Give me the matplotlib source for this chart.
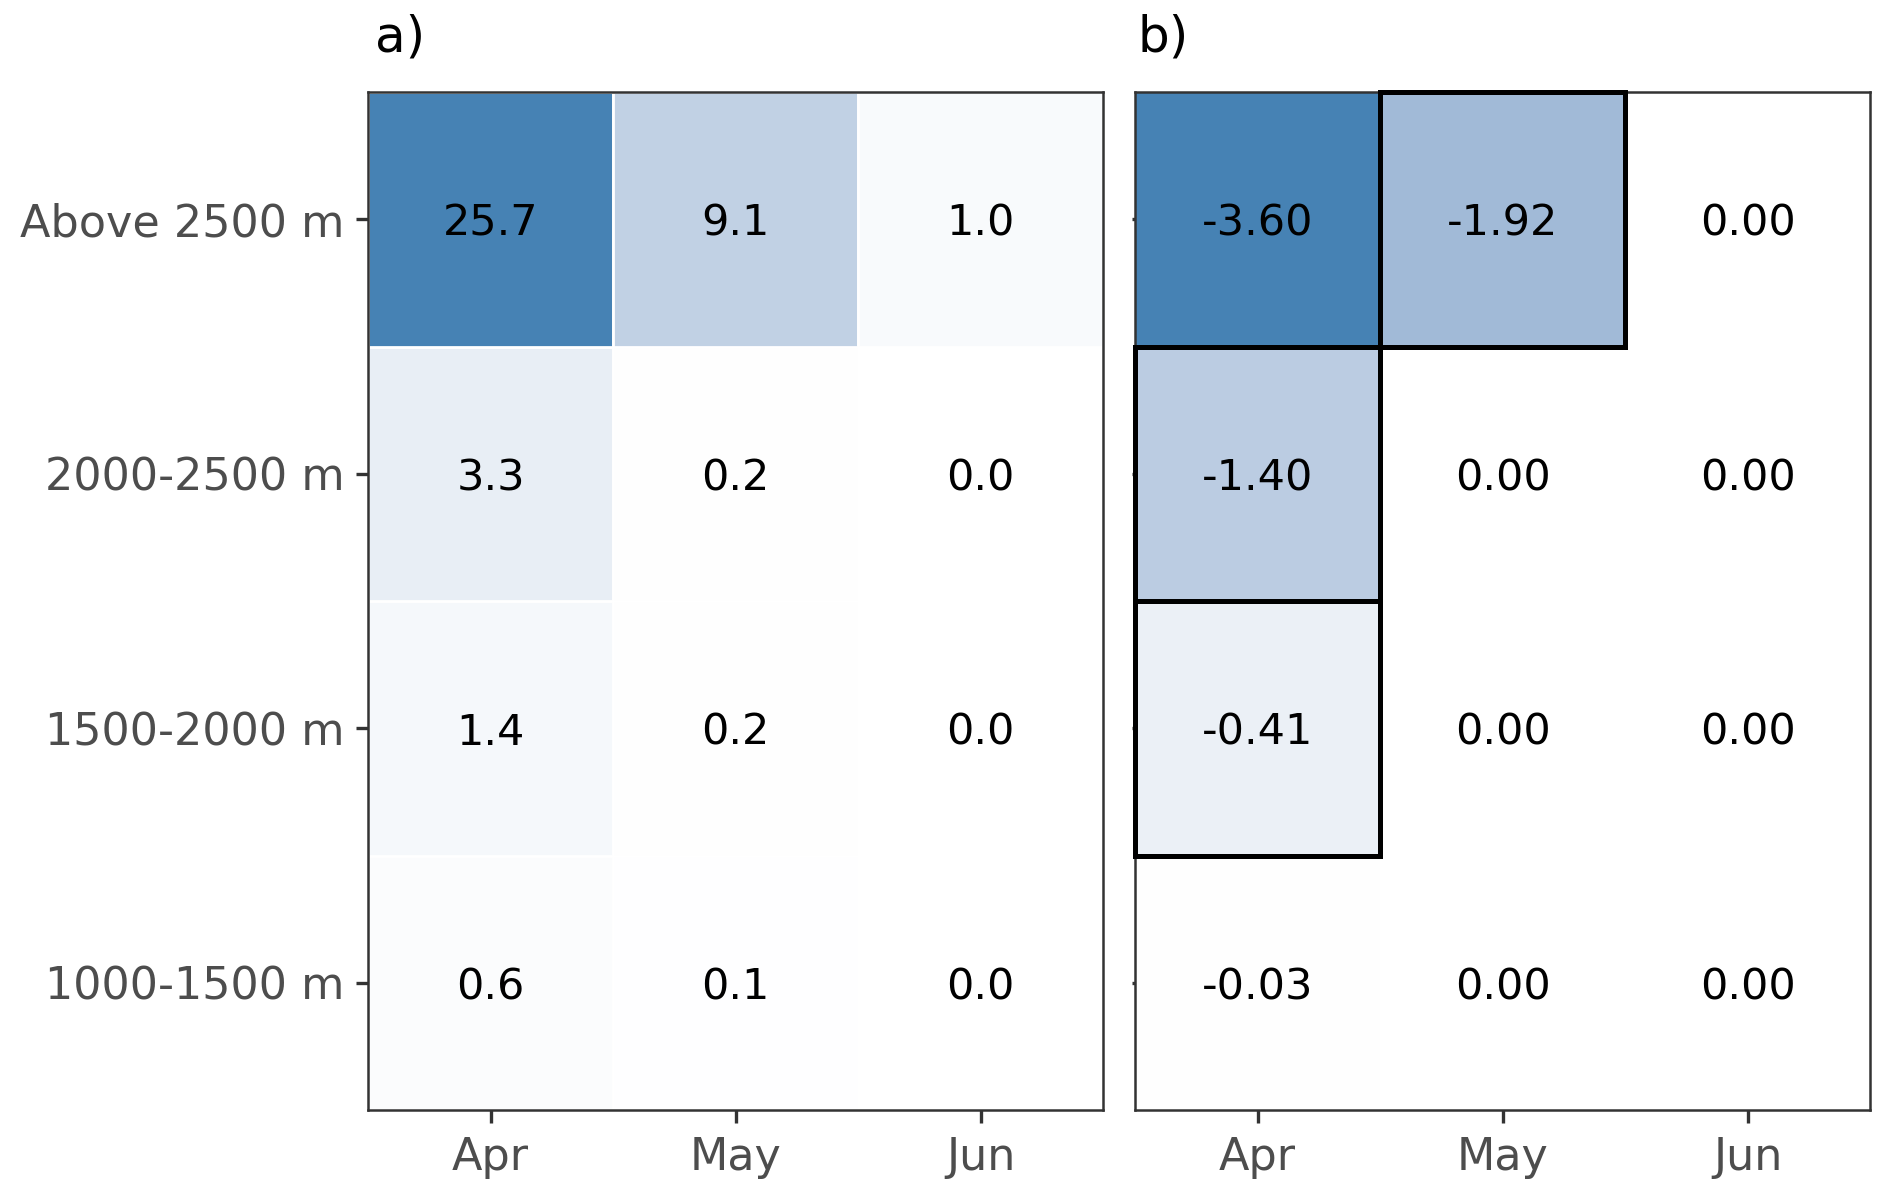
import numpy as np
import matplotlib
matplotlib.use("Agg")
import matplotlib.pyplot as plt
from matplotlib.patches import Rectangle

months = ["Apr", "May", "Jun"]
elevations = ["1000-1500 m", "1500-2000 m", "2000-2500 m", "Above 2500 m"]  # bottom to top

# panel a values: rows = elevations (bottom to top), cols = months
vals_a = [[0.6, 0.1, 0.0],
          [1.4, 0.2, 0.0],
          [3.3, 0.2, 0.0],
          [25.7, 9.1, 1.0]]
# panel b values
vals_b = [[-0.03, 0.00, 0.00],
          [-0.41, 0.00, 0.00],
          [-1.40, 0.00, 0.00],
          [-3.60, -1.92, 0.00]]
# highlighted cells in panel b (month index, elevation index)
boxed_b = [(1, 3), (0, 2), (0, 1)]

LOW = np.array([1.0, 1.0, 1.0])
HIGH = np.array([70, 130, 180]) / 255.0  # steelblue


def srgb_to_lab(c):
    c = np.asarray(c, float)
    lin = np.where(c <= 0.04045, c / 12.92, ((c + 0.055) / 1.055) ** 2.4)
    M = np.array([[0.4124, 0.3576, 0.1805],
                  [0.2126, 0.7152, 0.0722],
                  [0.0193, 0.1192, 0.9505]])
    xyz = M @ lin
    wp = np.array([0.95047, 1.0, 1.08883])
    t = xyz / wp
    f = np.where(t > (6 / 29) ** 3, np.cbrt(t), t / (3 * (6 / 29) ** 2) + 4 / 29)
    return np.array([116 * f[1] - 16, 500 * (f[0] - f[1]), 200 * (f[1] - f[2])])


def lab_to_srgb(lab):
    L, a, b = lab
    fy = (L + 16) / 116
    fx = fy + a / 500
    fz = fy - b / 200
    d = 6 / 29
    def finv(f):
        return f ** 3 if f > d else 3 * d * d * (f - 4 / 29)
    wp = np.array([0.95047, 1.0, 1.08883])
    xyz = np.array([finv(fx), finv(fy), finv(fz)]) * wp
    Minv = np.array([[3.2406, -1.5372, -0.4986],
                     [-0.9689, 1.8758, 0.0415],
                     [0.0557, -0.2040, 1.0570]])
    lin = Minv @ xyz
    lin = np.clip(lin, 0, 1)
    c = np.where(lin <= 0.0031308, 12.92 * lin, 1.055 * lin ** (1 / 2.4) - 0.055)
    return np.clip(c, 0, 1)


LAB_LOW = srgb_to_lab(LOW)
LAB_HIGH = srgb_to_lab(HIGH)


def fill_color(t):
    t = float(np.clip(t, 0, 1))
    return lab_to_srgb(LAB_LOW + t * (LAB_HIGH - LAB_LOW))


W, H = 1892, 1196
fig = plt.figure(figsize=(W / 200, H / 200), dpi=200)
axw = 735 / W
axh = 1018 / H
bot = 1 - 1110 / H
ax_a = fig.add_axes([368 / W, bot, axw, axh])
ax_b = fig.add_axes([1135 / W, bot, axw, axh])

grey = "#333333"
txt_grey = "#4D4D4D"

def style(ax, show_ylabels):
    ax.set_xlim(0.5, 3.5)
    ax.set_ylim(0.5, 4.5)
    ax.set_xticks([1, 2, 3])
    ax.set_xticklabels(months, fontsize=16, color=txt_grey)
    ax.set_yticks([1, 2, 3, 4])
    ax.tick_params(axis="x", length=4.5, width=1.2, color=grey, pad=5)
    if show_ylabels:
        ax.set_yticklabels(elevations, fontsize=16, color=txt_grey)
        ax.tick_params(axis="y", length=4.5, width=1.2, color=grey, pad=4)
    else:
        ax.set_yticklabels([])
        ax.tick_params(axis="y", length=1.0, width=1.2, color=grey, pad=4)
    for s in ax.spines.values():
        s.set_color(grey)
        s.set_linewidth(0.9)
        s.set_zorder(1)

# panel a
amax = max(max(r) for r in vals_a)
for i, row in enumerate(vals_a):
    for j, v in enumerate(row):
        ax_a.add_patch(Rectangle((j + 0.5, i + 0.5), 1, 1,
                                 facecolor=fill_color(v / amax),
                                 edgecolor="white", linewidth=1.0, zorder=0.5))
        ax_a.text(j + 1, i + 1, f"{v:.1f}", ha="center", va="center_baseline",
                  fontsize=15.5, color="black", zorder=3)
style(ax_a, True)

# panel b
bmin = min(min(r) for r in vals_b)
for i, row in enumerate(vals_b):
    for j, v in enumerate(row):
        ax_b.add_patch(Rectangle((j + 0.5, i + 0.5), 1, 1,
                                 facecolor=fill_color(v / bmin),
                                 edgecolor="none", linewidth=0, zorder=0.5))
for (j, i) in boxed_b:
    ax_b.add_patch(Rectangle((j + 0.5, i + 0.5), 1, 1, facecolor="none",
                             edgecolor="black", linewidth=1.8, zorder=2,
                             clip_on=False))
for i, row in enumerate(vals_b):
    for j, v in enumerate(row):
        ax_b.text(j + 1, i + 1, f"{v:.2f}", ha="center", va="center_baseline",
                  fontsize=15.5, color="black", zorder=3)
style(ax_b, False)

ax_a.text(0.01, 1.03, "a)", transform=ax_a.transAxes, fontsize=18,
          ha="left", va="bottom")
ax_b.text(0.004, 1.03, "b)", transform=ax_b.transAxes, fontsize=18,
          ha="left", va="bottom")

fig.savefig("out.png", dpi=200, facecolor="white")
